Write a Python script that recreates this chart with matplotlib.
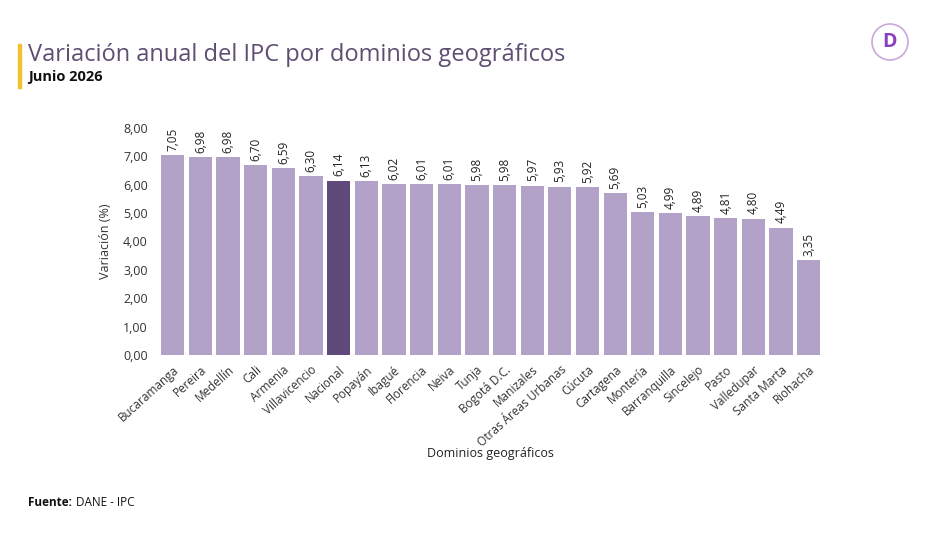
import matplotlib.pyplot as plt
from matplotlib.patches import Ellipse, Rectangle

plt.rcParams['font.family'] = ['Open Sans', 'DejaVu Sans']

# datos: variación anual del IPC, junio 2026
ciudades = ['Bucaramanga', 'Pereira', 'Medellín', 'Cali', 'Armenia', 'Villavicencio',
            'Nacional', 'Popayán', 'Ibagué', 'Florencia', 'Neiva', 'Tunja',
            'Bogotá D.C.', 'Manizales', 'Otras Áreas Urbanas', 'Cúcuta', 'Cartagena',
            'Montería', 'Barranquilla', 'Sincelejo', 'Pasto', 'Valledupar',
            'Santa Marta', 'Riohacha']
variacion = [7.05, 6.98, 6.98, 6.70, 6.59, 6.30, 6.14, 6.13, 6.02, 6.01, 6.01, 5.98,
             5.98, 5.97, 5.93, 5.92, 5.69, 5.03, 4.99, 4.89, 4.81, 4.80, 4.49, 3.35]
yticks = [0, 1, 2, 3, 4, 5, 6, 7, 8]

col_base = '#b3a2c8'
col_nac = '#5f4a7b'
colores = [col_nac if c == 'Nacional' else col_base for c in ciudades]

fig = plt.figure(figsize=(9.41, 5.33), dpi=100)
ax = fig.add_axes([0.166, 0.334, 0.711, 0.426])

x = range(len(ciudades))
bars = ax.bar(x, variacion, width=0.84, color=colores)
for b, v in zip(bars, variacion):
    ax.text(b.get_x() + b.get_width() / 2, v + 0.15, f'{v:.2f}'.replace('.', ','),
            rotation=90, ha='center', va='bottom', fontsize=8.5, color='#222222')

ax.set_xlim(-0.6, len(ciudades) - 0.4)
ax.set_ylim(0, 8)
ax.set_yticks(yticks)
ax.set_yticklabels([f'{t:.2f}'.replace('.', ',') for t in yticks], fontsize=9, color='#333333')
ax.set_xticks(list(x))
ax.set_xticklabels(ciudades, rotation=42, ha='right', rotation_mode='anchor',
                   fontsize=8.5, color='#333333')
ax.tick_params(length=0, pad=6)
for s in ax.spines.values():
    s.set_visible(False)
ax.set_ylabel('Variación (%)', fontsize=9, color='#333333', labelpad=8)
ax.set_xlabel('Dominios geográficos', fontsize=9, color='#222222', labelpad=-2)

# encabezado
fig.text(28 / 941, 1 - 55 / 533, 'Variación anual del IPC por dominios geográficos',
         fontsize=17, color='#5e4f72', va='center', ha='left')
fig.text(28 / 941, 1 - 77 / 533, 'Junio 2026', fontsize=10.5, fontweight='bold',
         color='#111111', va='center', ha='left')
fig.patches.append(Rectangle((18 / 941, 1 - 88 / 533), 2.5 / 941, 44 / 533,
                             transform=fig.transFigure, color='#f2c12e'))

# logo
fig.patches.append(Ellipse((890 / 941, 1 - 42 / 533), 36 / 941, 36 / 533,
                           transform=fig.transFigure, fill=False,
                           edgecolor='#c9a8dc', linewidth=1.2))
fig.text(890 / 941, 1 - 42 / 533, 'D', fontsize=14, fontweight='bold', color='#8a3fc0',
         ha='center', va='center')

# fuente
fig.text(28 / 941, 1 - 503 / 533, 'Fuente:', fontsize=8.5, fontweight='bold',
         color='#111111', va='center', ha='left')
fig.text(76 / 941, 1 - 503 / 533, 'DANE - IPC', fontsize=8.5, color='#111111',
         va='center', ha='left')

fig.savefig('out.png', dpi=100)
